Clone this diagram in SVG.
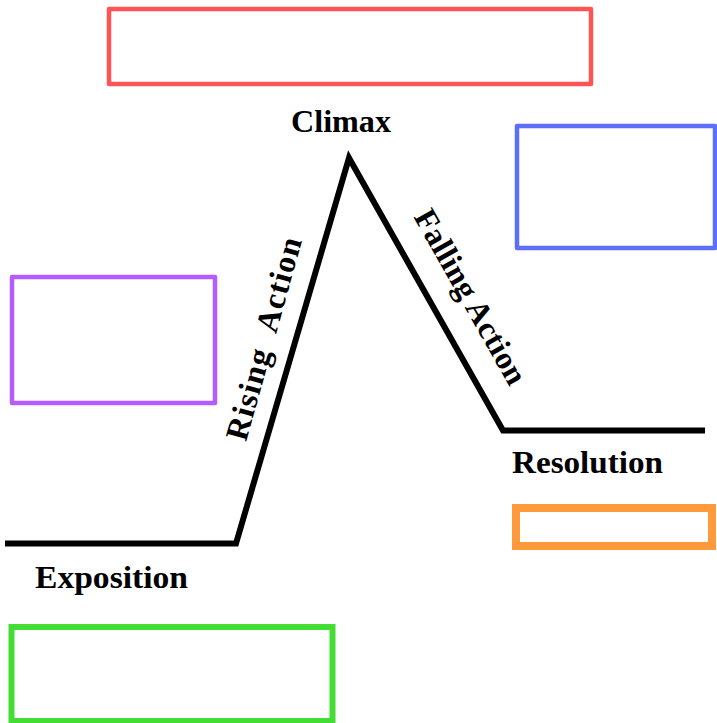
<svg xmlns="http://www.w3.org/2000/svg" width="717" height="723" viewBox="0 0 717 723">
<style>
.box{fill:none;stroke-linejoin:round}
.lbl{font-family:"Liberation Serif","Times New Roman",serif;font-weight:bold;font-size:32px;fill:#000}
.plot{fill:none;stroke:#000;stroke-width:6;stroke-linejoin:miter;stroke-miterlimit:10}
</style>
<rect width="717" height="723" fill="#fff"/>
<g id="connectors">
<polyline class="plot" points="5,543.5 236,543.5 349,158 503,430.5 705,430.5"/>
</g>
<g id="climax-box"><rect class="box" x="109" y="9" width="482" height="75" stroke="#ff5356" stroke-width="4.5"/></g>
<g id="falling-box"><rect class="box" x="517" y="126" width="198" height="122" stroke="#5b70f7" stroke-width="4.5"/></g>
<g id="rising-box"><rect class="box" x="12" y="277" width="203" height="126" stroke="#b35cff" stroke-width="4.5"/></g>
<g id="resolution-box"><rect x="516" y="508" width="196" height="38" fill="none" stroke="#ff9a3c" stroke-width="8"/></g>
<g id="exposition-box"><rect x="11.5" y="627" width="321" height="94" fill="none" stroke="#44dd33" stroke-width="6"/></g>
<g id="climax"><text class="lbl" x="291" y="132" textLength="100" lengthAdjust="spacingAndGlyphs">Climax</text></g>
<g id="resolution"><text class="lbl" x="512" y="473" textLength="151" lengthAdjust="spacingAndGlyphs">Resolution</text></g>
<g id="exposition"><text class="lbl" x="35" y="588" textLength="153" lengthAdjust="spacingAndGlyphs">Exposition</text></g>
<g id="rising-action"><text class="lbl" transform="translate(274,341.5) rotate(-74.5)" text-anchor="middle" word-spacing="10" textLength="209" lengthAdjust="spacing">Rising Action</text></g>
<g id="falling-action"><text class="lbl" transform="translate(461.5,302) rotate(60.5)" text-anchor="middle" textLength="196" lengthAdjust="spacing">Falling Action</text></g>
</svg>
